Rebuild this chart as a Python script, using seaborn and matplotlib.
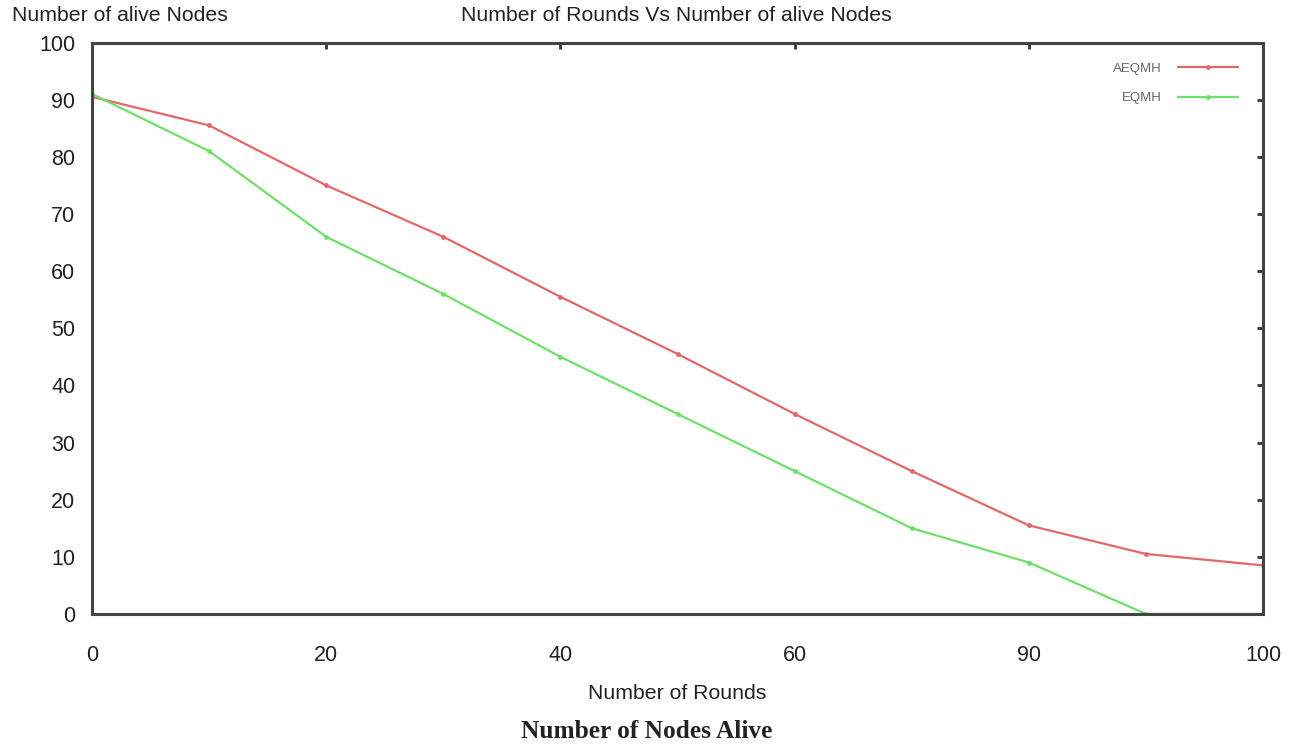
import pandas as pd
import matplotlib
matplotlib.use("Agg")
import matplotlib.pyplot as plt
import seaborn as sns

sns.set_theme(style="white")
plt.rcParams["font.family"] = ["Liberation Sans", "DejaVu Sans"]

rounds = [0, 10, 20, 30, 40, 50, 60, 70, 80, 90, 100]
aeqmh = [90.5, 85.5, 75, 66, 55.5, 45.5, 35, 25, 15.5, 10.5, 8.5]
eqmh = [91, 81, 66, 56, 45, 35, 25, 15, 9, 0, 0]
x_ticks = [0, 20, 40, 60, 80, 100]
x_tick_labels = ["0", "20", "40", "60", "90", "100"]
y_ticks = [0, 10, 20, 30, 40, 50, 60, 70, 80, 90, 100]

df = pd.DataFrame({
    "rounds": rounds * 2,
    "alive": aeqmh + eqmh,
    "protocol": ["AEQMH"] * len(rounds) + ["EQMH"] * len(rounds),
})

fig = plt.figure(figsize=(12.94, 7.46), dpi=100)
ax = fig.add_axes([0.0711, 0.177, 0.905, 0.766])

sns.lineplot(data=df, x="rounds", y="alive", hue="protocol",
             palette={"AEQMH": "#e2686c", "EQMH": "#6ee06a"},
             marker="o", markersize=3.5, markeredgewidth=0, linewidth=1.6, ax=ax)

ax.set_xlim(0, 100)
ax.set_ylim(0, 100)
ax.set_xticks(x_ticks)
ax.set_xticklabels(x_tick_labels)
ax.set_yticks(y_ticks)
ax.tick_params(direction="in", length=4, width=2, color="#333333",
               top=True, right=True, labelsize=15.5, labelcolor="#222222")
ax.tick_params(axis="x", pad=22)
ax.tick_params(axis="y", pad=12)
for s in ax.spines.values():
    s.set_color("#444444")
    s.set_linewidth(2.2)

ax.set_xlabel("")
ax.set_ylabel("")
leg = ax.legend(loc="upper right", frameon=False, fontsize=9.5, markerfirst=False,
                handlelength=4.6, handletextpad=1.2, labelspacing=1.3,
                borderaxespad=1.3, bbox_to_anchor=(0.998, 1.004))
for t in leg.get_texts():
    t.set_color("#666666")

fig.text(0.009, 0.979, "Number of alive Nodes", fontsize=15.3, va="center", ha="left", color="#222222")
fig.text(0.523, 0.979, "Number of Rounds Vs Number of alive Nodes", fontsize=15.3,
         va="center", ha="center", color="#222222")
fig.text(0.523, 0.071, "Number of Rounds", fontsize=15.3, va="center", ha="center", color="#222222")
fig.text(0.5, 0.02, "Number of Nodes Alive", fontsize=18.3, fontweight="bold",
         family="Liberation Serif", va="center", ha="center", color="#222222")

fig.savefig("out.png", dpi=100)
